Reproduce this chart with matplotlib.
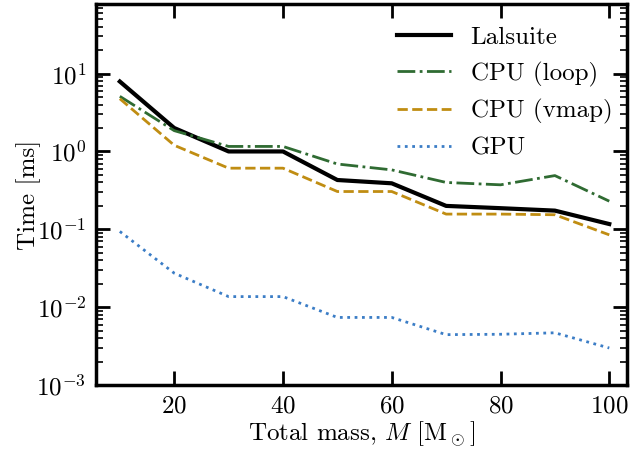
import numpy as np
import matplotlib
matplotlib.use("Agg")
import matplotlib.pyplot as plt

plt.rcParams['font.family'] = 'serif'
plt.rcParams['font.serif'] = ['cmr10']
plt.rcParams['mathtext.fontset'] = 'cm'
plt.rcParams['axes.formatter.use_mathtext'] = True
plt.rcParams['font.size'] = 18

# total mass in solar masses
mass = [10, 20, 30, 40, 50, 60, 70, 80, 90, 100]

# timing in ms
lalsuite = [7.9, 2.0, 1.0, 1.0, 0.43, 0.39, 0.20, 0.187, 0.174, 0.117]
cpu_loop = [5.1, 1.85, 1.16, 1.16, 0.69, 0.58, 0.40, 0.373, 0.49, 0.23]
cpu_vmap = [4.75, 1.2, 0.61, 0.61, 0.306, 0.306, 0.157, 0.157, 0.154, 0.085]
gpu = [0.094, 0.0274, 0.0137, 0.0137, 0.0074, 0.0074, 0.00445, 0.0045, 0.0047, 0.0030]

fig = plt.figure(figsize=(6.31, 4.51), dpi=100)
ax = fig.add_axes([0.152, 0.146, 0.842, 0.845])

ax.plot(mass, lalsuite, color="black", lw=3, label="Lalsuite")
ax.plot(mass, cpu_loop, color="#2f6b32", lw=2, ls="-.", label="CPU (loop)")
ax.plot(mass, cpu_vmap, color="#c08d12", lw=2, ls="--", label="CPU (vmap)")
ax.plot(mass, gpu, color="#3b7dc6", lw=2, ls=":", label="GPU")

ax.set_yscale("log")
ax.set_xlim(5.6, 103.3)
ax.set_ylim(1e-3, 78)
ax.set_xticks([20, 40, 60, 80, 100])

for s in ax.spines.values():
    s.set_linewidth(2.5)
ax.tick_params(which="both", direction="in", top=True, right=True)
ax.tick_params(which="major", length=10, width=2, pad=7)
ax.tick_params(which="minor", length=5, width=1.2)

ax.set_xlabel(r"Total mass, $M$ [M$_\odot$]", labelpad=2)
ax.set_ylabel("Time [ms]", labelpad=-3)
ax.legend(frameon=False, loc="upper right", handlelength=2.15,
          borderaxespad=0.2, bbox_to_anchor=(1.0, 0.98))

fig.savefig("out.png", dpi=100)
